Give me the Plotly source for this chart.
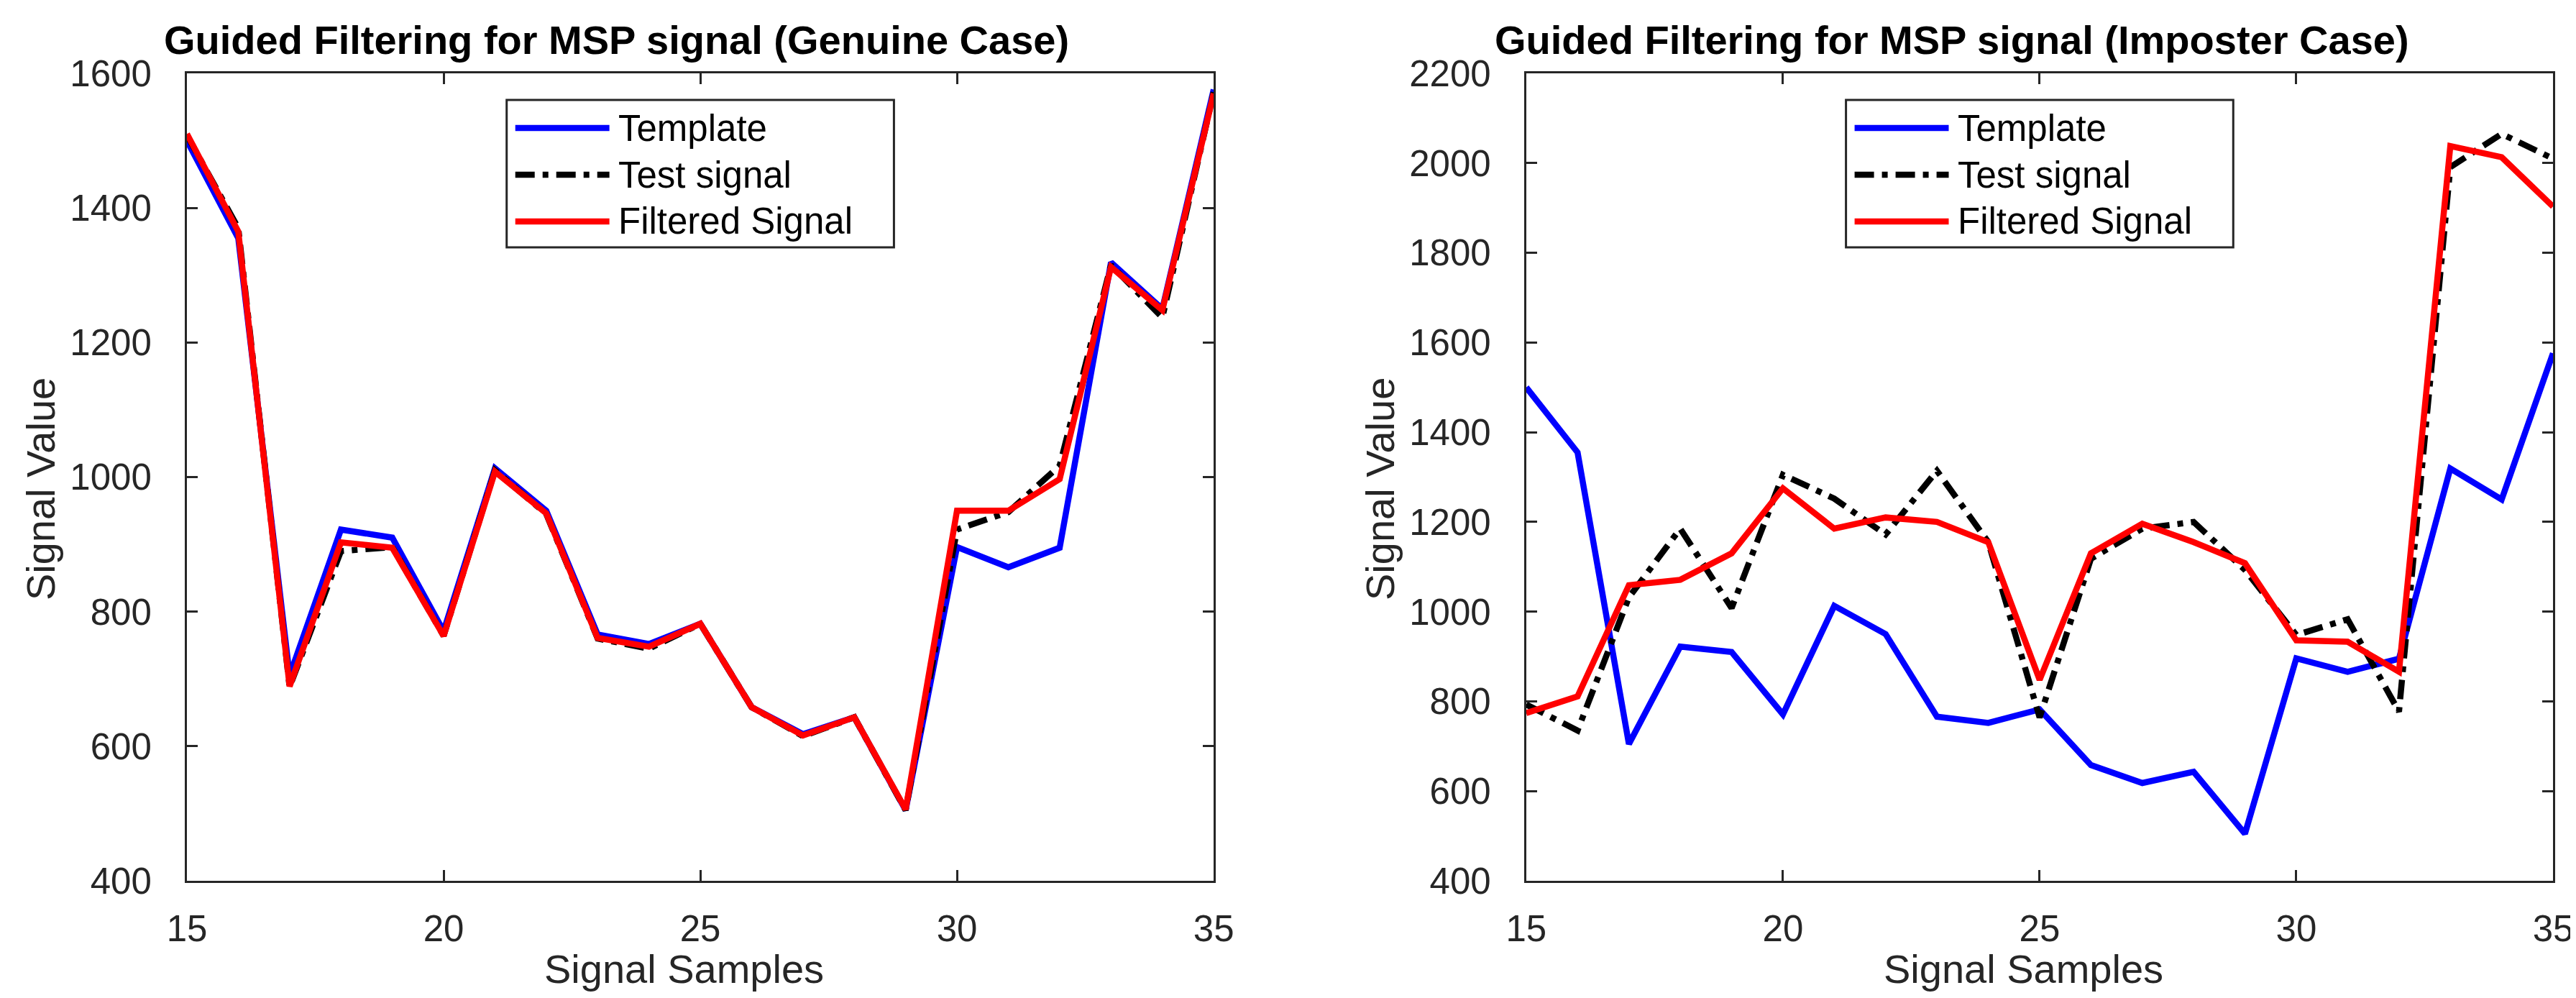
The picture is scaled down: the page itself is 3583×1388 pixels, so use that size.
import plotly.graph_objects as go
from plotly.subplots import make_subplots

# ---------------- data ----------------
samples = [15, 16, 17, 18, 19, 20, 21, 22, 23, 24, 25, 26, 27, 28, 29, 30, 31, 32, 33, 34, 35]

template = [1500, 1355, 705, 922, 910, 771, 1013, 950, 766, 752, 782, 658, 618, 643, 505,
            896, 866, 895, 1319, 1250, 1576]

genuine_test = [1508, 1370, 688, 890, 896, 764, 1010, 945, 760, 745, 782, 658, 615, 643, 505,
                922, 948, 1017, 1315, 1237, 1572]
genuine_filtered = [1510, 1365, 689, 903, 895, 764, 1008, 946, 761, 748, 782, 658, 616, 643, 506,
                    950, 950, 997, 1312, 1248, 1570]

imposter_test = [793, 735, 1032, 1185, 1008, 1305, 1252, 1172, 1314, 1155, 764, 1118, 1185, 1200,
                 1093, 948, 983, 777, 1991, 2065, 2010]
imposter_filtered = [774, 811, 1059, 1071, 1130, 1275, 1185, 1210, 1200, 1155, 848, 1130, 1196,
                     1155, 1108, 936, 933, 866, 2038, 2013, 1903]

titles = ["Guided Filtering for MSP signal (Genuine Case)",
          "Guided Filtering for MSP signal (Imposter Case)"]
series_names = ["Template", "Test signal", "Filtered Signal"]
x_label = "Signal Samples"
y_label = "Signal Value"

# ---------------- layout constants ----------------
W, H = 3583, 1388
ML, MR, MT, MB = 252, 38, 94, 171
PW = W - ML - MR
PH = H - MT - MB
FONT = "Liberation Sans, Arial, Helvetica, sans-serif"
AX = "#262626"
BLUE, BLACK, RED = "#0000ff", "#000000", "#ff0000"
DASH = "27px,11px,8px,11px"
LW = 8.5


def px(x):
    return (x - ML) / PW


def py(y):
    return (MT + PH - y) / PH


fig = make_subplots(rows=1, cols=2)

styles = [(BLUE, "solid"), (BLACK, DASH), (RED, "solid")]
panels = [
    [template, genuine_test, genuine_filtered],
    [template, imposter_test, imposter_filtered],
]
for c, panel in enumerate(panels, start=1):
    for name, vals, (col, dash) in zip(series_names, panel, styles):
        fig.add_trace(go.Scatter(x=samples, y=vals, mode="lines", name=name,
                                 line=dict(color=col, width=LW, dash=dash),
                                 showlegend=False), row=1, col=c)

axis_common = dict(showline=True, mirror="ticks", linewidth=3, linecolor=AX,
                   ticks="inside", ticklen=15, tickwidth=3, tickcolor=AX,
                   showgrid=False, zeroline=False,
                   tickfont=dict(family=FONT, size=51, color=AX))

left_dom = [0, px(1681)]
right_dom = [px(2116), 1]
fig.update_layout(
    xaxis=dict(domain=left_dom, range=[15, 35], tickvals=[15, 20, 25, 30, 35],
               ticklabelstandoff=20, **axis_common),
    xaxis2=dict(domain=right_dom, range=[15, 35], tickvals=[15, 20, 25, 30, 35],
                ticklabelstandoff=20, **axis_common),
    yaxis=dict(range=[400, 1600], tickvals=[400, 600, 800, 1000, 1200, 1400, 1600],
               ticklabelstandoff=36, **axis_common),
    yaxis2=dict(range=[400, 2200],
                tickvals=[400, 600, 800, 1000, 1200, 1400, 1600, 1800, 2000, 2200],
                ticklabelstandoff=36, **axis_common),
)

annotations = []
shapes = []
offset = 1864  # horizontal offset between the two panels in pixels
title_cx = [850, 2708]
xlabel_cx = [944, 2808]
for i in range(2):
    o = offset * i
    annotations.append(dict(text="<b>" + titles[i] + "</b>", x=px(title_cx[i]), y=py(48),
                            xref="paper", yref="paper", showarrow=False,
                            xanchor="center", yanchor="middle",
                            font=dict(family=FONT, size=56, color="#000000")))
    annotations.append(dict(text=x_label, x=px(xlabel_cx[i]), y=py(1339),
                            xref="paper", yref="paper", showarrow=False,
                            xanchor="center", yanchor="middle",
                            font=dict(family=FONT, size=56, color=AX)))
    annotations.append(dict(text=y_label, x=px(48 + o), y=py(672), textangle=-90,
                            xref="paper", yref="paper", showarrow=False,
                            xanchor="center", yanchor="middle",
                            font=dict(family=FONT, size=56, color=AX)))
    # legend box
    shapes.append(dict(type="rect", xref="paper", yref="paper",
                       x0=px(697 + o), x1=px(1236 + o), y0=py(131), y1=py(336),
                       line=dict(color=AX, width=3), fillcolor="white", layer="above"))
    rows_y = [170, 235, 300]
    for name, (col, dash), ry in zip(series_names, styles, rows_y):
        shapes.append(dict(type="line", xref="paper", yref="paper",
                           x0=px(709 + o), x1=px(840 + o), y0=py(ry), y1=py(ry),
                           line=dict(color=col, width=LW, dash=dash), layer="above"))
        annotations.append(dict(text=name, x=px(850 + o), y=py(ry),
                                xref="paper", yref="paper", showarrow=False,
                                xanchor="left", yanchor="middle",
                                font=dict(family=FONT, size=51, color="#000000")))

fig.update_layout(
    width=W, height=H,
    margin=dict(l=ML, r=MR, t=MT, b=MB),
    paper_bgcolor="white", plot_bgcolor="white",
    annotations=annotations, shapes=shapes,
    showlegend=False,
)

fig.write_html("out.html")
